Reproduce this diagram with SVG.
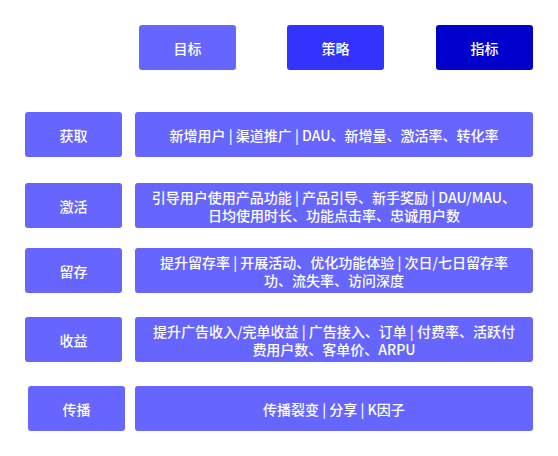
<svg xmlns="http://www.w3.org/2000/svg" width="558" height="456" viewBox="0 0 558 456">
<style>
.box{fill:#6666FF;}
.t{font-family:"Noto Sans CJK SC","Liberation Sans",sans-serif;font-size:14px;font-weight:500;fill:#FFFFFF;text-anchor:middle;dominant-baseline:central;}
</style>
<rect width="558" height="456" fill="#FFFFFF"/>
<g id="head-goal"><rect x="139" y="25" width="97" height="45" rx="3" fill="#6666FF"/><text class="t" x="187.5" y="47.5">目标</text></g>
<g id="head-strategy"><rect x="287" y="25" width="97" height="45" rx="3" fill="#3333FF"/><text class="t" x="335.5" y="47.5">策略</text></g>
<g id="head-metric"><rect x="436" y="25" width="97" height="45" rx="3" fill="#0000CC"/><text class="t" x="484.5" y="47.5">指标</text></g>

<g id="acq"><rect class="box" x="25" y="112" width="97" height="45" rx="3"/><text class="t" x="73.5" y="134.5">获取</text></g>
<g id="acq-d"><rect class="box" x="135" y="112" width="398" height="45" rx="3"/><text class="t" x="334" y="134.5">新增用户 | 渠道推广 | DAU、新增量、激活率、转化率</text></g>

<g id="act"><rect class="box" x="25" y="183" width="97" height="45" rx="3"/><text class="t" x="73.5" y="205.5">激活</text></g>
<g id="act-d"><rect class="box" x="135" y="183" width="398" height="45" rx="3"/><text class="t" x="334" y="196.5">引导用户使用产品功能 | 产品引导、新手奖励 | DAU/MAU、</text><text class="t" x="334" y="214.5">日均使用时长、功能点击率、忠诚用户数</text></g>

<g id="ret"><rect class="box" x="25" y="248" width="97" height="45" rx="3"/><text class="t" x="73.5" y="270.5">留存</text></g>
<g id="ret-d"><rect class="box" x="135" y="248" width="398" height="45" rx="3"/><text class="t" x="334" y="261.5">提升留存率 | 开展活动、优化功能体验 | 次日/七日留存率</text><text class="t" x="334" y="279.5">功、流失率、访问深度</text></g>

<g id="rev"><rect class="box" x="25" y="317" width="97" height="45" rx="3"/><text class="t" x="73.5" y="339.5">收益</text></g>
<g id="rev-d"><rect class="box" x="135" y="317" width="398" height="45" rx="3"/><text class="t" x="334" y="330.5">提升广告收入/完单收益 | 广告接入、订单 | 付费率、活跃付</text><text class="t" x="334" y="348.5">费用户数、客单价、ARPU</text></g>

<g id="ref"><rect class="box" x="28" y="386" width="97" height="45" rx="3"/><text class="t" x="76.5" y="408.5">传播</text></g>
<g id="ref-d"><rect class="box" x="135" y="386" width="398" height="45" rx="3"/><text class="t" x="334" y="408.5">传播裂变 | 分享 | K因子</text></g>
<g id="connectors"></g>
</svg>
